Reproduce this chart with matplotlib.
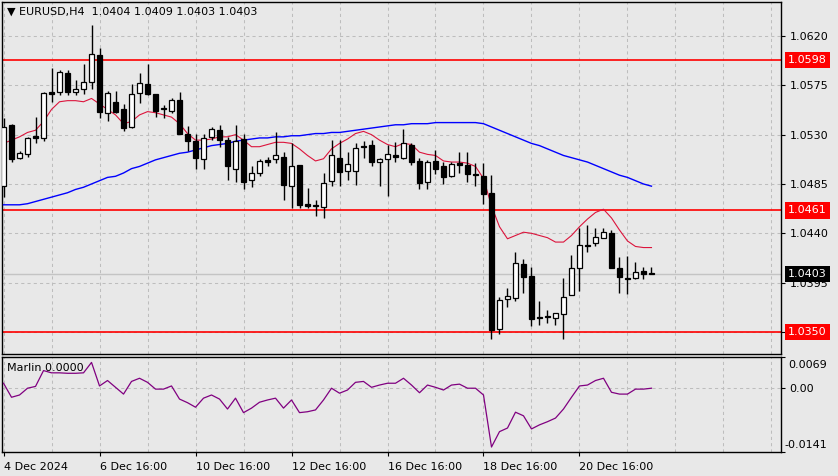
import matplotlib
matplotlib.use('Agg')
import matplotlib.pyplot as plt
from matplotlib.patches import Rectangle
from matplotlib.transforms import blended_transform_factory

# EURUSD H4 candles (bar 0 = left edge)
opens = [1.0483, 1.0539, 1.0509, 1.0512, 1.0529, 1.0527, 1.0569, 1.0569, 1.0586, 1.0569,
         1.0572, 1.0578, 1.0603, 1.0550, 1.0560, 1.0553, 1.0537, 1.0568, 1.0576, 1.0567,
         1.0554, 1.0552, 1.0562, 1.0531, 1.0524, 1.0508, 1.0528, 1.0534, 1.0525, 1.0499,
         1.0526, 1.0489, 1.0495, 1.0507, 1.0508, 1.0510, 1.0483, 1.0502, 1.0467, 1.0466,
         1.0464, 1.0488, 1.0509, 1.0497, 1.0497, 1.0520, 1.0521, 1.0505, 1.0508, 1.0511,
         1.0509, 1.0521, 1.0506, 1.0487, 1.0506, 1.0501, 1.0492, 1.0504, 1.0502, 1.0494,
         1.0492, 1.0477, 1.0353, 1.0380, 1.0381, 1.0412, 1.0401, 1.0364, 1.0365, 1.0363,
         1.0366, 1.0384, 1.0408, 1.0429, 1.0431, 1.0436, 1.0440, 1.0408, 1.0399, 1.0399,
         1.0406, 1.0404]
highs = [1.0545, 1.0540, 1.0515, 1.0528, 1.0546, 1.0569, 1.0591, 1.0589, 1.0589, 1.0580,
         1.0594, 1.0630, 1.0609, 1.0570, 1.0570, 1.0558, 1.0576, 1.0586, 1.0594, 1.0567,
         1.0557, 1.0563, 1.0569, 1.0538, 1.0531, 1.0531, 1.0537, 1.0539, 1.0528, 1.0539,
         1.0531, 1.0501, 1.0508, 1.0510, 1.0532, 1.0514, 1.0522, 1.0502, 1.0481, 1.0470,
         1.0495, 1.0525, 1.0525, 1.0514, 1.0522, 1.0524, 1.0525, 1.0509, 1.0521, 1.0523,
         1.0535, 1.0522, 1.0509, 1.0507, 1.0516, 1.0505, 1.0505, 1.0514, 1.0514, 1.0504,
         1.0504, 1.0493, 1.0382, 1.0390, 1.0423, 1.0417, 1.0409, 1.0378, 1.0370, 1.0367,
         1.0399, 1.0420, 1.0445, 1.0448, 1.0445, 1.0445, 1.0443, 1.0418, 1.0419, 1.0414,
         1.0409, 1.0409]
lows = [1.0473, 1.0505, 1.0508, 1.0510, 1.0522, 1.0524, 1.0560, 1.0566, 1.0566, 1.0566,
        1.0567, 1.0572, 1.0545, 1.0542, 1.0550, 1.0533, 1.0536, 1.0559, 1.0566, 1.0546,
        1.0545, 1.0550, 1.0531, 1.0515, 1.0499, 1.0499, 1.0525, 1.0519, 1.0489, 1.0487,
        1.0480, 1.0482, 1.0492, 1.0501, 1.0504, 1.0470, 1.0463, 1.0463, 1.0463, 1.0456,
        1.0454, 1.0483, 1.0483, 1.0489, 1.0484, 1.0509, 1.0501, 1.0483, 1.0474, 1.0505,
        1.0508, 1.0502, 1.0480, 1.0480, 1.0494, 1.0485, 1.0491, 1.0495, 1.0487, 1.0483,
        1.0467, 1.0344, 1.0348, 1.0373, 1.0378, 1.0386, 1.0355, 1.0356, 1.0358, 1.0356,
        1.0344, 1.0384, 1.0387, 1.0423, 1.0428, 1.0436, 1.0408, 1.0386, 1.0385, 1.0398,
        1.0398, 1.0403]
closes = [1.0537, 1.0508, 1.0513, 1.0527, 1.0527, 1.0568, 1.0567, 1.0587, 1.0569, 1.0572,
          1.0578, 1.0604, 1.0551, 1.0568, 1.0551, 1.0536, 1.0567, 1.0577, 1.0567, 1.0552,
          1.0553, 1.0562, 1.0531, 1.0524, 1.0509, 1.0527, 1.0535, 1.0525, 1.0501, 1.0524,
          1.0487, 1.0495, 1.0506, 1.0505, 1.0511, 1.0484, 1.0501, 1.0466, 1.0465, 1.0465,
          1.0486, 1.0511, 1.0496, 1.0503, 1.0518, 1.0519, 1.0505, 1.0508, 1.0512, 1.0510,
          1.0522, 1.0505, 1.0486, 1.0505, 1.0499, 1.0491, 1.0503, 1.0502, 1.0494, 1.0493,
          1.0476, 1.0352, 1.0379, 1.0383, 1.0413, 1.0400, 1.0362, 1.0363, 1.0364, 1.0367,
          1.0382, 1.0408, 1.0429, 1.0428, 1.0437, 1.0441, 1.0408, 1.0400, 1.0398, 1.0405,
          1.0403, 1.0403]

# moving averages as drawn on the chart
ma_red = [1.0522, 1.0525, 1.0528, 1.0532, 1.0534, 1.0542, 1.0553, 1.0560, 1.0561, 1.0561,
          1.0560, 1.0563, 1.0558, 1.0553, 1.0548, 1.0540, 1.0542, 1.0548, 1.0551, 1.0550,
          1.0548, 1.0546, 1.0540, 1.0531, 1.0525, 1.0525, 1.0526, 1.0528, 1.0528, 1.0530,
          1.0525, 1.0519, 1.0519, 1.0521, 1.0523, 1.0523, 1.0522, 1.0517, 1.0511, 1.0506,
          1.0508, 1.0517, 1.0522, 1.0526, 1.0531, 1.0533, 1.0530, 1.0525, 1.0521, 1.0519,
          1.0522, 1.0521, 1.0514, 1.0512, 1.0511, 1.0506, 1.0505, 1.0505, 1.0504, 1.0501,
          1.0490, 1.0465, 1.0446, 1.0435, 1.0438, 1.0441, 1.0440, 1.0438, 1.0436, 1.0432,
          1.0432, 1.0438, 1.0446, 1.0453, 1.0459, 1.0462, 1.0454, 1.0443, 1.0433, 1.0428,
          1.0427, 1.0427]
ma_blue = [1.0466, 1.0466, 1.0466, 1.0467, 1.0469, 1.0471, 1.0473, 1.0475, 1.0477, 1.0480,
           1.0482, 1.0485, 1.0488, 1.0491, 1.0492, 1.0495, 1.0499, 1.0501, 1.0504, 1.0507,
           1.0509, 1.0511, 1.0513, 1.0514, 1.0516, 1.0518, 1.0520, 1.0521, 1.0522, 1.0524,
           1.0525, 1.0526, 1.0527, 1.0527, 1.0528, 1.0528, 1.0529, 1.0529, 1.0530, 1.0531,
           1.0531, 1.0532, 1.0532, 1.0533, 1.0534, 1.0535, 1.0536, 1.0537, 1.0538, 1.0539,
           1.0539, 1.0540, 1.0540, 1.0540, 1.0541, 1.0541, 1.0541, 1.0541, 1.0541, 1.0541,
           1.0540, 1.0537, 1.0534, 1.0531, 1.0528, 1.0525, 1.0522, 1.0520, 1.0517, 1.0514,
           1.0511, 1.0509, 1.0507, 1.0505, 1.0502, 1.0499, 1.0496, 1.0493, 1.0491, 1.0488,
           1.0485, 1.0483]

# Marlin oscillator
marlin = [0.0011, -0.0020, -0.0015, 0.0000, 0.0004, 0.0039, 0.0034, 0.0034, 0.0033, 0.0033,
          0.0034, 0.0057, 0.0005, 0.0017, 0.0002, -0.0013, 0.0015, 0.0022, 0.0013, -0.0002,
          -0.0002, 0.0005, -0.0024, -0.0032, -0.0042, -0.0022, -0.0015, -0.0024, -0.0046, -0.0022,
          -0.0054, -0.0044, -0.0031, -0.0026, -0.0022, -0.0044, -0.0026, -0.0054, -0.0052, -0.0048,
          -0.0026, 0.0000, -0.0011, -0.0004, 0.0013, 0.0015, 0.0002, 0.0007, 0.0011, 0.0011,
          0.0022, 0.0007, -0.0010, 0.0007, 0.0002, -0.0004, 0.0007, 0.0009, 0.0000, 0.0000,
          -0.0015, -0.0130, -0.0096, -0.0088, -0.0053, -0.0061, -0.0090, -0.0081, -0.0074, -0.0066,
          -0.0046, -0.0020, 0.0005, 0.0007, 0.0017, 0.0022, -0.0009, -0.0013, -0.0013, -0.0002,
          -0.0002, 0.0000]

levels = [1.0598, 1.0461, 1.0350]
last_price = 1.0403
price_ticks = [1.0620, 1.0575, 1.0530, 1.0485, 1.0440, 1.0395, 1.0350]
time_ticks = [0, 12, 24, 36, 48, 60, 72]
time_labels = ['4 Dec 2024', '6 Dec 16:00', '10 Dec 16:00', '12 Dec 16:00',
               '16 Dec 16:00', '18 Dec 16:00', '20 Dec 16:00']
osc_top, osc_bottom = 0.0069, -0.0141

bg = '#e8e8e8'
grid_col = '#bdbdbd'
plt.rcParams['font.family'] = 'DejaVu Sans'
plt.rcParams['font.size'] = 8

fig = plt.figure(figsize=(8.38, 4.76), dpi=100, facecolor=bg)
ax = fig.add_axes([2/838, 1 - 354/476, 779/838, 352/476], facecolor=bg)
ax2 = fig.add_axes([2/838, 1 - 452/476, 779/838, 95/476], facecolor=bg)

xmin, xmax = -0.19, 97.19
n = len(opens)

# grid
for a in (ax, ax2):
    for gx in range(0, 97, 6):
        a.axvline(gx, color=grid_col, lw=0.75, ls=(0, (3, 3)), zorder=0)
for p in price_ticks:
    ax.axhline(p, color=grid_col, lw=0.75, ls=(0, (3, 3)), zorder=0)
ax2.axhline(0, color=grid_col, lw=0.75, ls=(0, (3, 3)), zorder=0)

# bid line and support/resistance levels
ax.axhline(last_price, color='#c4c4c4', lw=1.0, zorder=1)
for lv in levels:
    ax.axhline(lv, color='red', lw=1.2, zorder=2)

# moving averages
ax.plot(range(n), ma_blue, color='blue', lw=1.0, zorder=3)
ax.plot(range(n), ma_red, color='#dc143c', lw=0.8, zorder=3)

# candles
w = 0.6
for i in range(n):
    o, h, l, c = opens[i], highs[i], lows[i], closes[i]
    ax.vlines(i, l, h, color='black', lw=1.0, zorder=4)
    fc = 'white' if c > o else 'black'
    ax.add_patch(Rectangle((i - w/2, min(o, c)), w, abs(c - o), facecolor=fc,
                           edgecolor='black', lw=0.9, zorder=5))

ax.set_xlim(xmin, xmax)
ax.set_ylim(1.03299, 1.06510)
ax.set_xticks([])
ax.yaxis.tick_right()
ax.set_yticks(price_ticks)
ax.set_yticklabels([f'{p:.4f}' for p in price_ticks])
ax.tick_params(axis='y', direction='out', length=3, width=0.8, pad=3, labelsize=8)

ax.text(0.006, 0.972, '\u25bc EURUSD,H4  1.0404 1.0409 1.0403 1.0403',
        transform=ax.transAxes, ha='left', va='center', fontsize=8)

# price boxes on the right axis
tr = blended_transform_factory(ax.transAxes, ax.transData)
for lv in levels:
    ax.text(1.0 + 7/779, lv, f'{lv:.4f}', transform=tr, ha='left', va='center',
            color='white', fontsize=8, clip_on=False, zorder=10,
            bbox=dict(boxstyle='square,pad=0.3', fc='red', ec='none'))
ax.text(1.0 + 7/779, last_price, f'{last_price:.4f}', transform=tr, ha='left', va='center',
        color='white', fontsize=8, clip_on=False, zorder=10,
        bbox=dict(boxstyle='square,pad=0.3', fc='black', ec='none'))

# oscillator panel
ax2.plot(range(n), marlin, color='#800080', lw=0.9, zorder=3)
ax2.set_xlim(xmin, xmax)
ax2.set_ylim(osc_bottom, osc_top)
ax2.yaxis.tick_right()
ax2.set_yticks([osc_top, 0.0, osc_bottom])
ax2.set_yticklabels(['', '0.00', ''])
ax2.tick_params(axis='y', direction='out', length=3, width=0.8, pad=3, labelsize=8)
tr2 = blended_transform_factory(ax2.transAxes, ax2.transData)
ax2.annotate(f'{osc_top:.4f}', xy=(1.0, osc_top), xycoords=tr2, xytext=(5.0, -6.0),
             textcoords='offset points', ha='left', va='center', fontsize=8, annotation_clip=False)
ax2.annotate(f'{osc_bottom:.4f}', xy=(1.0, osc_bottom), xycoords=tr2, xytext=(2.5, 5.0),
             textcoords='offset points', ha='left', va='center', fontsize=8, annotation_clip=False)
ax2.text(0.006, 0.88, 'Marlin 0.0000', transform=ax2.transAxes, ha='left', va='center',
         fontsize=8)

ax2.set_xticks(time_ticks)
ax2.set_xticklabels(time_labels, ha='left')
ax2.tick_params(axis='x', direction='out', length=3, width=0.8, pad=4, labelsize=8)

for a in (ax, ax2):
    for s in a.spines.values():
        s.set_color('black')
        s.set_linewidth(1.0)

fig.savefig('out.png', dpi=100, facecolor=bg)
